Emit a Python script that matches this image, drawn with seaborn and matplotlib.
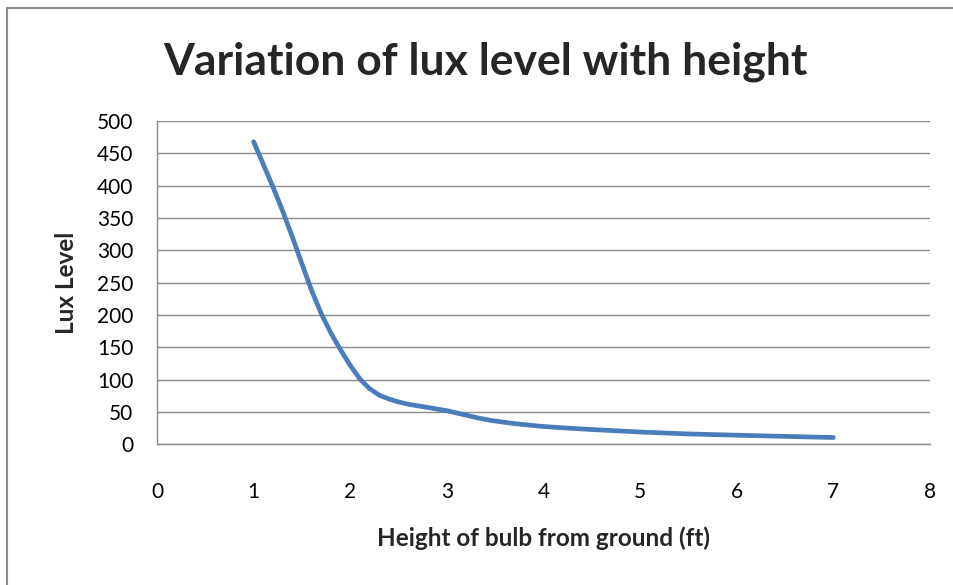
import matplotlib
matplotlib.use("Agg")
import matplotlib.pyplot as plt
import seaborn as sns
import pandas as pd
from matplotlib.patches import Rectangle

# Values
height_ft = [1.0, 1.1, 1.2, 1.3, 1.4, 1.5, 1.6, 1.7, 1.8, 1.9, 2.0, 2.1, 2.2, 2.3, 2.4,
             2.5, 2.6, 2.7, 2.8, 2.9, 3.0, 3.1, 3.2, 3.3, 3.45, 3.7, 3.96, 4.2, 4.48,
             5.0, 5.5, 6.2, 7.0]
lux_level = [468, 433, 398, 361, 321, 279, 238, 202, 172, 146, 122, 101, 86, 76, 70,
             65.5, 62, 59.5, 57, 54.5, 52, 48.5, 45, 41.5, 37, 32, 28, 25.5, 23,
             19, 16, 13.3, 10.5]

x_ticks = [0, 1, 2, 3, 4, 5, 6, 7, 8]
y_ticks = [0, 50, 100, 150, 200, 250, 300, 350, 400, 450, 500]

title = "Variation of lux level with height"
x_label = "Height of bulb from ground (ft)"
y_label = "Lux Level"

df = pd.DataFrame({"height": height_ft, "lux": lux_level})

sns.set_theme(style="white")
plt.rcParams["font.family"] = ["Lato", "DejaVu Sans"]

fig = plt.figure(figsize=(9.54, 5.85), dpi=100)
ax = fig.add_axes([157 / 954, 1 - 444.3 / 585, (930 - 157) / 954, (444.3 - 121) / 585])

# outer chart border
fig.patches.append(Rectangle((7 / 954, -0.1), 1.2, (585 - 8) / 585 + 0.1,
                             transform=fig.transFigure, fill=False,
                             edgecolor="#8c8c8c", linewidth=1.5))

sns.lineplot(data=df, x="height", y="lux", ax=ax, color="#4A7EBB",
             linewidth=3.4, sort=False, estimator=None)
for ln in ax.lines:
    ln.set_solid_capstyle("round")
    ln.set_solid_joinstyle("round")

ax.set_xlim(0, 8)
ax.set_ylim(0, 500)
ax.set_xticks(x_ticks)
ax.set_yticks(y_ticks)
ax.set_xticklabels([str(v) for v in x_ticks])
ax.set_yticklabels([str(v) for v in y_ticks])
ax.tick_params(axis="x", labelsize=15, pad=27, length=0, colors="#000000")
ax.tick_params(axis="y", labelsize=15, pad=17, length=0, colors="#000000")

ax.yaxis.grid(True, color="#8a8a8a", linewidth=1.0)
ax.xaxis.grid(False)
for side in ["top", "right"]:
    ax.spines[side].set_visible(False)
for side in ["left", "bottom"]:
    ax.spines[side].set_color("#8a8a8a")
    ax.spines[side].set_linewidth(1.0)

ax.set_xlabel(x_label, fontsize=17.5, fontweight="bold", labelpad=18)
ax.set_ylabel(y_label, fontsize=17.5, fontweight="bold", labelpad=14)

fig.text(485 / 954, 1 - 62 / 585, title, ha="center", va="center",
         fontsize=32, fontweight="bold")

fig.savefig("out.png", dpi=100)
